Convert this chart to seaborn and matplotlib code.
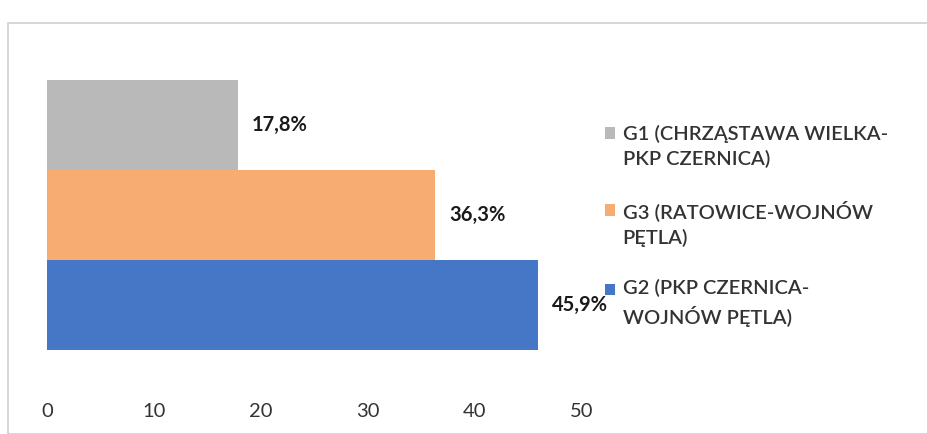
import matplotlib
matplotlib.use("Agg")
import matplotlib.pyplot as plt
import matplotlib.patches as mpatches
from matplotlib.legend_handler import HandlerPatch
import seaborn as sns
import pandas as pd

routes = ["G1", "G3", "G2"]
values = [17.8, 36.3, 45.9]
value_labels = ["17,8%", "36,3%", "45,9%"]
legend_labels = [
    "G1 (CHRZĄSTAWA WIELKA-\nPKP CZERNICA)",
    "G3 (RATOWICE-WOJNÓW\nPĘTLA)",
    "G2 (PKP CZERNICA-\nWOJNÓW PĘTLA)",
]
colors = ["#B9B9B9", "#F7AD72", "#4577C6"]
x_ticks = [0, 10, 20, 30, 40, 50]

sns.set_style("white")
plt.rcParams["font.family"] = ["Lato", "DejaVu Sans"]

df = pd.DataFrame({"route": routes, "value": values})

fig = plt.figure(figsize=(9.28, 4.34), dpi=100)
ax = fig.add_axes([0.051, 0.194, 0.576, 0.622])

sns.barplot(data=df, x="value", y="route", hue="route", palette=colors,
            order=routes, hue_order=routes, width=1.0, dodge=False,
            legend=False, saturation=1, linewidth=0, ax=ax)

for bar, lab in zip(ax.patches, value_labels):
    ax.text(bar.get_width() + 1.3, bar.get_y() + bar.get_height() / 2, lab,
            ha="left", va="center", fontsize=14.5, fontweight="bold",
            color="#1a1a1a")

ax.set_xlim(0, 50)
ax.set_ylim(2.5, -0.5)
ax.set_xticks(x_ticks)
ax.set_xticklabels([str(t) for t in x_ticks], fontsize=14.5, color="#333333")
ax.tick_params(axis="x", length=0, pad=38)
ax.set_yticks([])
ax.set_xlabel("")
ax.set_ylabel("")
for spine in ax.spines.values():
    spine.set_visible(False)


# legend squares sit next to the first line of each two-line label
def first_line_square(legend, orig_handle, xdescent, ydescent, width, height, fontsize):
    return mpatches.Rectangle((-xdescent, -ydescent + 0.66 * fontsize), width, height)


handles = [mpatches.Patch(color=c, linewidth=0) for c in colors]
leg = fig.legend(handles, legend_labels, loc="upper left",
                 bbox_to_anchor=(0.632, 0.755), frameon=False,
                 prop={"size": 14.5, "weight": "semibold"},
                 labelcolor="#333333", handlelength=0.5, handleheight=0.5,
                 handletextpad=0.4, labelspacing=1.6,
                 handler_map={mpatches.Patch: HandlerPatch(patch_func=first_line_square)})
for t in leg.get_texts():
    t.set_linespacing(1.5)

# outer chart frame
fig.add_artist(mpatches.Rectangle((0.009, 0.0), 1.2, 0.948, transform=fig.transFigure,
                                  fill=False, edgecolor="#cfcfcf", linewidth=1.2))

fig.savefig("out.png", dpi=100, facecolor="white")
